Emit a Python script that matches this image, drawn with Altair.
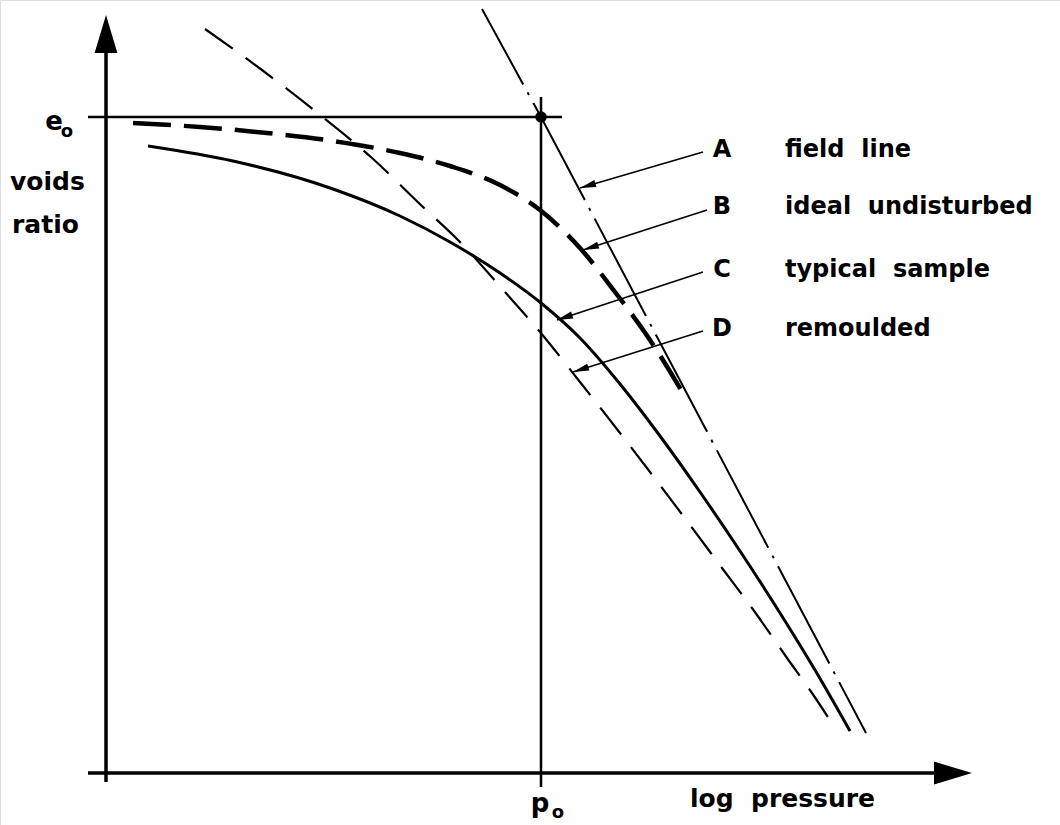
import math

import altair as alt
import pandas as pd

# Schematic consolidation curves: voids ratio against log pressure.
# Plot units: the axes cross at (0, 0); both axes use 10 px per unit.

P0 = 43.5   # log of the overburden pressure p_o
E0 = 65.6   # in-situ voids ratio e_o

# A  field line
A_LOGP = [37.6, 43.5, 76.0]
A_E = [76.4, 65.6, 4.0]

# B  ideal undisturbed
B_LOGP = [2.7, 9.4, 16.1, 22.7, 29.4, 34.4, 39.4, 43.4, 47.4, 50.9, 54.4, 58.1]
B_E = [65.0, 64.6, 64.0, 63.2, 62.0, 60.7, 58.8, 56.3, 52.5, 48.1, 43.3, 37.3]

# C  typical sample
C_LOGP = [4.2, 12.7, 22.7, 29.4, 34.4, 39.4, 43.5, 47.4, 51.4, 55.4, 59.4,
          63.4, 67.4, 70.9, 74.4]
C_E = [62.7, 61.2, 58.4, 55.7, 53.1, 50.0, 47.0, 43.5, 38.9, 33.7, 28.1,
       22.2, 16.0, 10.3, 4.2]

# D  remoulded
D_LOGP = [9.9, 15.6, 21.4, 26.6, 31.7, 35.2, 39.9, 43.4, 47.4, 51.4, 54.4,
          58.4, 61.6, 65.1, 68.1, 70.6, 72.9]
D_E = [74.4, 70.3, 65.8, 61.5, 56.6, 53.3, 48.1, 44.1, 39.1, 34.0, 30.1,
       24.8, 20.5, 15.8, 11.5, 8.0, 4.5]

# Wide word gap as used in the lettering (no-break space keeps it in SVG)
GAP = "\u00a0 "

# Key letters and their descriptions
KEYS = ["A", "B", "C", "D"]
KEY_TEXT = ["field" + GAP + "line", "ideal" + GAP + "undisturbed",
            "typical" + GAP + "sample", "remoulded"]
KEY_BASE = [61.6, 55.9, 49.6, 43.7]
# Leader lines: start beside each letter, arrow tip on the curve
LEAD_X0 = [59.7, 60.1, 59.7, 59.7]
LEAD_Y0 = [62.1, 56.3, 50.1, 44.2]
LEAD_X1 = [47.4, 47.7, 45.1, 46.7]
LEAD_Y1 = [58.5, 52.3, 45.3, 40.1]

XS = alt.Scale(domain=[-10.6, 95.4], nice=False, zero=False)
YS = alt.Scale(domain=[-5.2, 77.3], nice=False, zero=False)
FONT = "DejaVu Sans"

# Arrowhead outlines: tip at the origin, base along +x
HEAD_AXIS = "M0,0 L2,-0.6 L2,0.6 Z"
HEAD_LEADER = "M0,0 L2,-0.45 L2,0.45 Z"


def xq(field):
    return alt.X(field, type="quantitative", scale=XS, axis=None)


def yq(field):
    return alt.Y(field, type="quantitative", scale=YS, axis=None)


def curve(xs, ys, **style):
    df = pd.DataFrame({"logp": xs, "e": ys, "i": list(range(len(xs)))})
    return alt.Chart(df).mark_line(color="black", strokeCap="butt", **style).encode(
        x=xq("logp"), y=yq("e"), order=alt.Order("i:Q")
    )


def labels(df, align, size):
    return alt.Chart(df).mark_text(
        font=FONT, fontSize=size, fontWeight="bold", align=align,
        baseline="alphabetic", color="black"
    ).encode(x=xq("x"), y=yq("y"), text="t:N")


layers = []

# Axes, the e_o level and the p_o ordinate
frame = pd.DataFrame({
    "x": [0.0, -1.8, -1.8, P0],
    "x2": [0.0, 83.5, P0 + 2.1, P0],
    "y": [-0.9, 0.0, E0, -1.4],
    "y2": [72.5, 0.0, E0, E0 + 2.0],
    "w": [3.5, 3.5, 2.5, 2.5],
})
layers.append(
    alt.Chart(frame).mark_rule(color="black").encode(
        x=xq("x"), x2="x2:Q", y=yq("y"), y2="y2:Q",
        strokeWidth=alt.StrokeWidth("w:Q", scale=None),
    )
)

# Axis arrowheads
axis_heads = pd.DataFrame({"x": [0.0, 86.6], "y": [75.8, 0.0], "angle": [90, 180]})
layers.append(
    alt.Chart(axis_heads).mark_point(
        shape=HEAD_AXIS, filled=True, color="black", opacity=1, size=1444, strokeWidth=0
    ).encode(x=xq("x"), y=yq("y"), angle=alt.Angle("angle:Q", scale=None))
)

# The four curves
layers.append(curve(D_LOGP, D_E, strokeWidth=2.2, strokeDash=[34, 16], interpolate="monotone"))
layers.append(curve(C_LOGP, C_E, strokeWidth=3, interpolate="monotone"))
layers.append(curve(A_LOGP, A_E, strokeWidth=2, strokeDash=[110, 9, 3, 9], strokeDashOffset=24))
layers.append(curve(B_LOGP, B_E, strokeWidth=4.5, strokeDash=[38, 13], interpolate="monotone"))

# Initial state (p_o, e_o)
layers.append(
    alt.Chart(pd.DataFrame({"x": [P0], "y": [E0]})).mark_point(
        shape="circle", filled=True, color="black", opacity=1, size=133
    ).encode(x=xq("x"), y=yq("y"))
)

# Leader lines and their arrowheads
leaders = pd.DataFrame({"x": LEAD_X0, "y": LEAD_Y0, "x2": LEAD_X1, "y2": LEAD_Y1})
leaders["angle"] = [
    math.degrees(math.atan2(-(y0 - y1), x0 - x1)) % 360
    for x0, y0, x1, y1 in zip(LEAD_X0, LEAD_Y0, LEAD_X1, LEAD_Y1)
]
layers.append(
    alt.Chart(leaders).mark_rule(color="black", strokeWidth=1.6).encode(
        x=xq("x"), x2="x2:Q", y=yq("y"), y2="y2:Q"
    )
)
layers.append(
    alt.Chart(leaders).mark_point(
        shape=HEAD_LEADER, filled=True, color="black", opacity=1, size=256, strokeWidth=0
    ).encode(x=xq("x2"), y=yq("y2"), angle=alt.Angle("angle:Q", scale=None))
)

# Key letters (centred) and descriptions (left aligned)
layers.append(labels(pd.DataFrame({"t": KEYS, "x": [61.6] * 4, "y": KEY_BASE}), "center", 24))
layers.append(labels(pd.DataFrame({"t": KEY_TEXT, "x": [67.9] * 4, "y": KEY_BASE}), "left", 24))

# Axis titles
layers.append(labels(pd.DataFrame({
    "t": ["voids", "ratio", "log" + GAP + "pressure"],
    "x": [-9.6, -9.4, 58.4],
    "y": [58.3, 54.0, -3.4],
}), "left", 25))

# e_o and p_o symbols with subscripts
symbols = pd.DataFrame({
    "t": ["e", "p", "o", "o"],
    "x": [-5.2, 43.4, -3.9, 45.2],
    "y": [64.3, -3.9, 63.6, -4.5],
    "fs": [26, 26, 18, 18],
})
layers.append(
    alt.Chart(symbols).mark_text(
        font=FONT, fontWeight="bold", align="center", baseline="alphabetic", color="black"
    ).encode(
        x=xq("x"), y=yq("y"), text="t:N", size=alt.Size("fs:Q", scale=None)
    )
)

chart = (
    alt.layer(*layers)
    .properties(width=1060, height=825, autosize=alt.AutoSizeParams(type="none"), padding=0)
    .configure_view(stroke=None)
    .configure(background="white")
)

chart.save("out.html", embed_options={"renderer": "svg", "actions": False})
